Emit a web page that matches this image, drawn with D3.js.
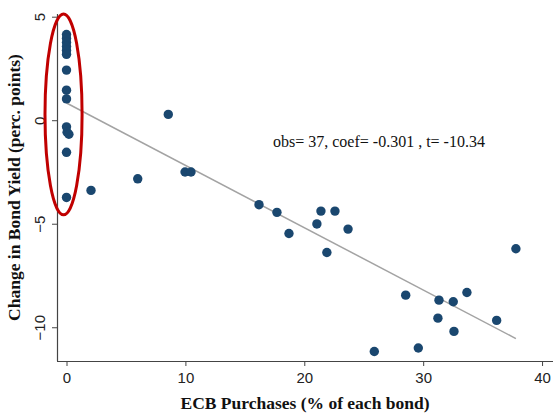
<!DOCTYPE html>
<html>
<head>
<meta charset="utf-8">
<script src="https://cdn.jsdelivr.net/npm/d3@7"></script>
<style>
  html, body { margin: 0; padding: 0; background: #fff; }
  svg { display: block; }
</style>
</head>
<body>
<svg id="chart" width="553" height="413"></svg>
<script>
// ECB purchases (% of each bond)
const purchases = [
  0, 0, 0, 0, 0, 0, 0, 0, 0, 0, 0.05, 0.2, 0, 0,
  2.06, 5.99, 8.56, 9.97, 10.47,
  16.19, 17.70, 18.71, 21.06, 21.40, 21.90, 22.58, 23.68,
  25.89, 28.53, 29.59, 31.24, 31.33, 32.53, 32.59, 33.68, 36.18, 37.80
];
// Change in bond yield (percentage points)
const yieldChange = [
  4.14, 3.95, 3.75, 3.56, 3.37, 3.18, 2.42, 1.45, 1.03, -0.32, -0.58, -0.68, -1.55, -3.73,
  -3.39, -2.83, 0.28, -2.50, -2.50,
  -4.08, -4.45, -5.47, -5.01, -4.39, -6.39, -4.39, -5.26,
  -11.17, -8.45, -11.0, -9.56, -8.69, -8.77, -10.2, -8.32, -9.67, -6.21
];
const xTicks = [0, 10, 20, 30, 40];
const yTicks = [5, 0, -5, -10];
const fitIntercept = 0.83;
const fitSlope = -0.301;
const statsLabel = "obs= 37, coef= -0.301 , t= -10.34";
const xTitle = "ECB Purchases (% of each bond)";
const yTitle = "Change in Bond Yield (perc. points)";

(function () {
const svg = d3.select("#chart");
const pLeft = 57, pRight = 553, pTop = 14, pBottom = 361;

const x = d3.scaleLinear().domain([-0.8, 40.92]).range([pLeft, pRight]);
const y = d3.scaleLinear().domain([-11.63, 5.13]).range([pBottom, pTop]);

// Fitted line
const fitX = [0, d3.max(purchases)];
svg.append("line")
  .attr("x1", x(fitX[0])).attr("y1", y(fitIntercept + fitSlope * fitX[0]))
  .attr("x2", x(fitX[1])).attr("y2", y(fitIntercept + fitSlope * fitX[1]))
  .attr("stroke", "#a3a3a3").attr("stroke-width", 1.5);

// Points
svg.append("g").selectAll("circle")
  .data(purchases.map((v, i) => [v, yieldChange[i]]))
  .join("circle")
  .attr("cx", d => x(d[0]))
  .attr("cy", d => y(d[1]))
  .attr("r", 4.7)
  .attr("fill", "#1a476f");

// Axes
const xAxis = svg.append("g")
  .attr("transform", `translate(0,${pBottom})`)
  .call(d3.axisBottom(x).tickValues(xTicks).tickSize(5).tickPadding(6).tickFormat(d3.format("d")));
xAxis.select(".domain").attr("d", `M${pLeft},0.5H${pRight}`).attr("stroke", "#444").attr("stroke-width", 1.2);
xAxis.selectAll(".tick line").attr("stroke", "#444");
xAxis.selectAll(".tick text")
  .attr("font-family", "'Liberation Sans', Arial, sans-serif")
  .attr("font-size", 15).attr("fill", "#222");

const yAxis = svg.append("g")
  .attr("transform", `translate(${pLeft},0)`)
  .call(d3.axisLeft(y).tickValues(yTicks).tickSize(5).tickFormat(d3.format("d")));
yAxis.select(".domain").attr("d", `M0.5,${pTop}V${pBottom}`).attr("stroke", "#444").attr("stroke-width", 1.2);
yAxis.selectAll(".tick line").attr("stroke", "#444");
yAxis.selectAll(".tick text")
  .attr("font-family", "'Liberation Sans', Arial, sans-serif")
  .attr("font-size", 15).attr("fill", "#222")
  .attr("x", null).attr("dy", null)
  .attr("text-anchor", "middle")
  .attr("transform", "translate(-12,0) rotate(-90)");

// Titles
svg.append("text")
  .attr("x", (pLeft + pRight) / 2).attr("y", 409)
  .attr("text-anchor", "middle")
  .attr("font-family", "'Liberation Serif', 'Times New Roman', serif")
  .attr("font-weight", "bold").attr("font-size", 17.5).attr("fill", "#111")
  .text(xTitle);

svg.append("text")
  .attr("transform", `translate(20,${(pTop + pBottom) / 2}) rotate(-90)`)
  .attr("text-anchor", "middle")
  .attr("font-family", "'Liberation Serif', 'Times New Roman', serif")
  .attr("font-weight", "bold").attr("font-size", 17.5).attr("fill", "#111")
  .text(yTitle);

// Annotation
svg.append("text")
  .attr("x", 273).attr("y", 147)
  .attr("font-family", "'Liberation Serif', 'Times New Roman', serif")
  .attr("font-size", 16).attr("fill", "#111")
  .text(statsLabel);

// Red ellipse highlighting zero-purchase bonds
const ellCx = -0.25, ellCy = 0.28, ellRx = 1.56, ellRy = 4.85;
svg.append("ellipse")
  .attr("cx", x(ellCx)).attr("cy", y(ellCy))
  .attr("rx", x(ellRx) - x(0)).attr("ry", y(0) - y(ellRy))
  .attr("fill", "none").attr("stroke", "#c00000").attr("stroke-width", 3);
})();
</script>
</body>
</html>
